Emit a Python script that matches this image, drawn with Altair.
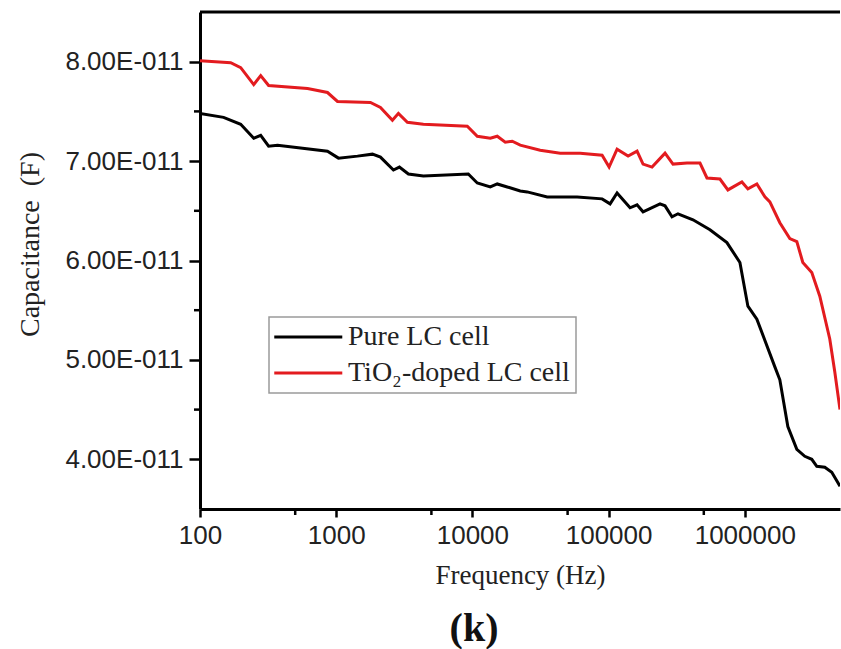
import altair as alt
import pandas as pd

# ---- data (capacitance in units of 1e-11 F) ----
freq_pure = [100, 149, 199, 248, 279, 319, 371, 863, 1039, 1433, 1846, 2113, 2631, 2912,
             3389, 4365, 9330, 10860, 13530, 15220, 18030, 22450, 25260, 35410, 58760,
             89610, 102560, 115400, 143700, 161800, 179000, 238600, 259600, 292100,
             323200, 416500, 554900, 739100, 920800, 1053700, 1226300, 1662300, 1808400,
             2070100, 2409900, 2758000, 3103600, 3378100, 3865500, 4350800, 5000000]
cap_pure = [7.48, 7.44, 7.37, 7.23, 7.26, 7.15, 7.16, 7.10, 7.03, 7.05, 7.07, 7.04, 6.91, 6.94,
            6.87, 6.85, 6.87, 6.78, 6.74, 6.77, 6.74, 6.70, 6.69, 6.64, 6.64,
            6.62, 6.57, 6.68, 6.53, 6.56, 6.49, 6.57, 6.55, 6.44,
            6.47, 6.41, 6.31, 6.18, 5.98, 5.54, 5.41, 4.93, 4.80,
            4.33, 4.10, 4.03, 4.00, 3.93, 3.92, 3.87, 3.73]

freq_tio2 = [100, 168, 199, 248, 279, 319, 616, 863, 1022, 1784, 2113, 2587, 2863, 3332,
             4365, 9175, 10860, 13530, 15220, 17430, 19610, 22450, 31460, 44100, 61820,
             89610, 100850, 115400, 139000, 161800, 179000, 208400, 259600, 297100,
             376300, 468800, 527500, 656700, 751600, 952100, 1053700, 1226300, 1404600,
             1527600, 1808400, 2141300, 2409900, 2666900, 3103600, 3553400, 4206300,
             4576600, 5000000]
cap_tio2 = [8.01, 7.99, 7.94, 7.77, 7.86, 7.76, 7.73, 7.69, 7.60, 7.59, 7.54, 7.41, 7.48, 7.39,
            7.37, 7.35, 7.25, 7.23, 7.25, 7.19, 7.20, 7.16, 7.11, 7.08, 7.08,
            7.06, 6.94, 7.12, 7.05, 7.10, 6.97, 6.94, 7.08, 6.97,
            6.98, 6.98, 6.83, 6.82, 6.71, 6.79, 6.72, 6.77, 6.64,
            6.59, 6.38, 6.22, 6.19, 5.98, 5.88, 5.64, 5.21,
            4.88, 4.50]

series_names = ["Pure LC cell", "TiO\u2082-doped LC cell"]
series_colors = ["#000000", "#e31b1f"]

x_major = [100, 1000, 10000, 100000, 1000000]
x_minor = [500, 5000, 50000, 500000]
y_major = [4e-11, 5e-11, 6e-11, 7e-11, 8e-11]
y_minor = [4.5e-11, 5.5e-11, 6.5e-11, 7.5e-11]

df = pd.concat([
    pd.DataFrame({"freq": freq_pure, "cap": [v * 1e-11 for v in cap_pure], "series": series_names[0]}),
    pd.DataFrame({"freq": freq_tio2, "cap": [v * 1e-11 for v in cap_tio2], "series": series_names[1]}),
])

SANS = "Liberation Sans"
SERIF = "Liberation Serif"
TXT = "#222222"

xscale = alt.Scale(type="log", domain=[100, 5e6], nice=False)
yscale = alt.Scale(domain=[3.5e-11, 8.5e-11], nice=False, zero=False)

x_axis = alt.Axis(values=x_major, format="d", title="Frequency (Hz)", grid=False,
                  labelFont=SANS, labelFontSize=26, labelColor=TXT, labelPadding=5,
                  tickSize=8, tickWidth=2.5, tickColor="black",
                  domainColor="black", domainWidth=3,
                  titleFont=SERIF, titleFontSize=27, titleFontWeight="normal",
                  titleColor=TXT, titlePadding=14, labelFlush=False)
y_axis = alt.Axis(values=y_major, labelExpr="format(datum.value*1e11,'.2f') + 'E-011'",
                  title="Capacitance\u00a0\u00a0(F)", grid=False,
                  labelFont=SANS, labelFontSize=26, labelColor=TXT, labelPadding=6,
                  tickSize=11, tickWidth=2.5, tickColor="black",
                  domainColor="black", domainWidth=3,
                  titleFont=SERIF, titleFontSize=28, titleFontWeight="normal",
                  titleColor=TXT, titleX=-170, titleY=232, titleBaseline="middle")

lines = alt.Chart(df).mark_line(strokeWidth=3, clip=True).encode(
    x=alt.X("freq:Q", scale=xscale, axis=x_axis, title="Frequency (Hz)"),
    y=alt.Y("cap:Q", scale=yscale, axis=y_axis, title="Capacitance\u00a0\u00a0(F)"),
    color=alt.Color("series:N", scale=alt.Scale(domain=series_names, range=series_colors),
                    legend=alt.Legend(orient="none", legendX=69, legendY=305, title=None,
                                      symbolType="M-1.3,0H4.7", symbolSize=514,
                                      symbolStrokeWidth=3, symbolFillColor="transparent",
                                      labelFont=SERIF, labelFontSize=28, labelColor=TXT,
                                      labelLimit=400, labelOffset=45,
                                      strokeColor="#9a9a9a", fillColor="white",
                                      padding=6, rowPadding=8)),
)

xminor = alt.Chart(pd.DataFrame({"freq": x_minor})).mark_rule(stroke="black", strokeWidth=2.5).encode(
    x=alt.X("freq:Q", scale=xscale, axis=x_axis, title="Frequency (Hz)"),
    y=alt.value(498), y2=alt.value(503),
)

yminor = alt.Chart(pd.DataFrame({"cap": y_minor})).mark_rule(stroke="black", strokeWidth=2.5).encode(
    y=alt.Y("cap:Q", scale=yscale, axis=y_axis, title="Capacitance\u00a0\u00a0(F)"),
    x=alt.value(-6), x2=alt.value(0),
)

# top frame line of the plot box
frame_top = alt.Chart(pd.DataFrame({"edge": ["top"]})).mark_rule(stroke="black", strokeWidth=3).encode(
    x=alt.value(0), x2=alt.value(640), y=alt.value(0),
)

chart = alt.layer(lines, xminor, yminor, frame_top).properties(
    width=640, height=497,
    autosize=alt.AutoSizeParams(type="none"),
    padding={"left": 200, "top": 12, "right": 1, "bottom": 140},
    title=alt.TitleParams("(k)", orient="bottom", font=SERIF, fontSize=40, fontWeight="bold",
                          color="#111111", dx=-46, offset=21),
).configure_view(stroke=None).configure_legend(strokeWidth=1.5)

chart.save("out.html", embed_options={"renderer": "svg", "actions": False})
